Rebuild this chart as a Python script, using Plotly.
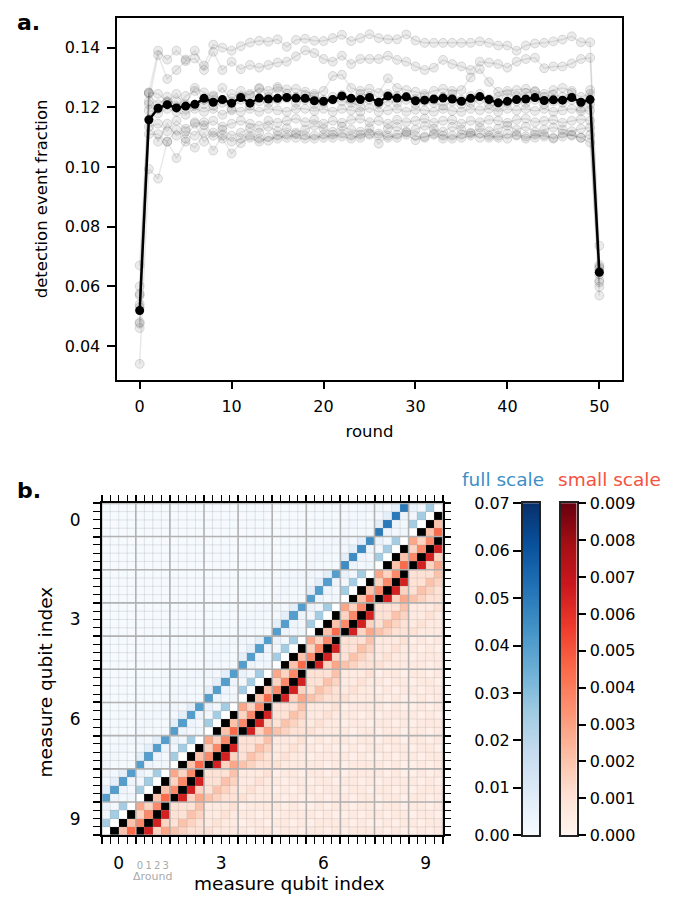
import numpy as np
import plotly.graph_objects as go

# ---------------- panel a data ----------------
ROUNDS = list(range(51))
MEAN_FRACTION = [0.0519, 0.1158, 0.1197, 0.1209, 0.1198, 0.1204, 0.1210, 0.1230, 0.1217, 0.1226,
                 0.1214, 0.1233, 0.1214, 0.1231, 0.1228, 0.1230, 0.1233, 0.1231, 0.1230, 0.1222,
                 0.1220, 0.1226, 0.1238, 0.1230, 0.1226, 0.1233, 0.1217, 0.1238, 0.1231, 0.1235,
                 0.1222, 0.1224, 0.1228, 0.1231, 0.1228, 0.1220, 0.1230, 0.1236, 0.1226, 0.1215,
                 0.1220, 0.1226, 0.1228, 0.1233, 0.1223, 0.1225, 0.1224, 0.1233, 0.1217, 0.1226,
                 0.0647]
QUBIT_A = [0.060, 0.125, 0.139, 0.136, 0.139, 0.136, 0.139, 0.134, 0.141, 0.140,
           0.139, 0.1405, 0.1417, 0.1423, 0.1420, 0.1428, 0.1403, 0.1426, 0.1430, 0.1423,
           0.1422, 0.1432, 0.1443, 0.1422, 0.1432, 0.1445, 0.1432, 0.1428, 0.1428, 0.1444,
           0.1424, 0.1416, 0.1416, 0.1416, 0.1416, 0.1416, 0.1416, 0.1421, 0.1416, 0.1407,
           0.1407, 0.1390, 0.1407, 0.1414, 0.1416, 0.1421, 0.1427, 0.1438, 0.1418, 0.1418,
           0.0665]
QUBIT_B = [0.057, 0.122, 0.1375, 0.1295, 0.1325, 0.1355, 0.1364, 0.1325, 0.1386, 0.1325,
           0.1353, 0.1328, 0.1342, 0.1333, 0.1342, 0.1350, 0.1353, 0.1371, 0.1391, 0.1382,
           0.1362, 0.1353, 0.1373, 0.1345, 0.1362, 0.1362, 0.1362, 0.1373, 0.1359, 0.1353,
           0.1337, 0.1325, 0.1333, 0.1359, 0.1345, 0.1337, 0.1325, 0.1353, 0.1350, 0.1345,
           0.1333, 0.1353, 0.1362, 0.1366, 0.1331, 0.1337, 0.1337, 0.1347, 0.1362, 0.1366,
           0.0736]
QUBIT_C = [0.067, 0.1249, 0.1245, 0.1220, 0.1245, 0.1210, 0.1265, 0.1250, 0.1235, 0.1265,
           0.1220, 0.1255, 0.1240, 0.1265, 0.1255, 0.1268, 0.1260, 0.1262, 0.1252, 0.1245,
           0.1255, 0.1305, 0.1309, 0.1265, 0.1255, 0.1262, 0.1248, 0.1297, 0.1265, 0.1258,
           0.1252, 0.1245, 0.1255, 0.1262, 0.1255, 0.1258, 0.1300, 0.1328, 0.1285, 0.1252,
           0.1255, 0.1258, 0.1262, 0.1255, 0.1245, 0.1258, 0.1265, 0.1255, 0.1195, 0.1258,
           0.0672]
QUBIT_D = [0.0575, 0.1245, 0.1210, 0.1235, 0.1200, 0.1238, 0.1255, 0.1210, 0.1240, 0.1225,
           0.1245, 0.1235, 0.1245, 0.1262, 0.1235, 0.1262, 0.1245, 0.1235, 0.1242, 0.1238,
           0.1225, 0.1235, 0.1242, 0.1225, 0.1245, 0.1238, 0.1215, 0.1245, 0.1238, 0.1235,
           0.1228, 0.1238, 0.1225, 0.1235, 0.1245, 0.1225, 0.1238, 0.1245, 0.1228, 0.1235,
           0.1245, 0.1238, 0.1248, 0.1252, 0.1235, 0.1242, 0.1235, 0.1248, 0.1235, 0.1245,
           0.0660]
QUBIT_E = [0.054, 0.1210, 0.1195, 0.1215, 0.1220, 0.1195, 0.1205, 0.1225, 0.1205, 0.1215,
           0.1195, 0.1225, 0.1205, 0.1220, 0.1215, 0.1225, 0.1230, 0.1215, 0.1225, 0.1210,
           0.1215, 0.1225, 0.1220, 0.1215, 0.1205, 0.1225, 0.1210, 0.1220, 0.1215, 0.1225,
           0.1210, 0.1220, 0.1215, 0.1205, 0.1220, 0.1210, 0.1215, 0.1225, 0.1210, 0.1205,
           0.1215, 0.1220, 0.1215, 0.1225, 0.1210, 0.1220, 0.1215, 0.1225, 0.1215, 0.1210,
           0.0650]
QUBIT_F = [0.053, 0.1190, 0.1180, 0.1195, 0.1185, 0.1175, 0.1195, 0.1185, 0.1195, 0.1175,
           0.1190, 0.1185, 0.1195, 0.1185, 0.1195, 0.1190, 0.1185, 0.1195, 0.1195, 0.1188,
           0.1195, 0.1185, 0.1195, 0.1190, 0.1185, 0.1198, 0.1185, 0.1190, 0.1195, 0.1185,
           0.1192, 0.1190, 0.1185, 0.1195, 0.1188, 0.1185, 0.1195, 0.1190, 0.1195, 0.1185,
           0.1195, 0.1190, 0.1195, 0.1188, 0.1195, 0.1185, 0.1190, 0.1195, 0.1188, 0.1190,
           0.0640]
QUBIT_G = [0.048, 0.1135, 0.1145, 0.1120, 0.1155, 0.1128, 0.1150, 0.1140, 0.1155, 0.1135,
           0.1145, 0.1155, 0.1145, 0.1138, 0.1155, 0.1148, 0.1155, 0.1162, 0.1150, 0.1158,
           0.1145, 0.1155, 0.1148, 0.1158, 0.1162, 0.1150, 0.1155, 0.1145, 0.1158, 0.1150,
           0.1155, 0.1162, 0.1148, 0.1155, 0.1158, 0.1145, 0.1155, 0.1150, 0.1158, 0.1155,
           0.1148, 0.1158, 0.1162, 0.1150, 0.1155, 0.1158, 0.1148, 0.1155, 0.1160, 0.1155,
           0.0620]
QUBIT_H = [0.0475, 0.1160, 0.1085, 0.1145, 0.1105, 0.1120, 0.1105, 0.1150, 0.1105, 0.1125,
           0.1105, 0.1115, 0.1130, 0.1115, 0.1135, 0.1120, 0.1130, 0.1115, 0.1125, 0.1138,
           0.1128, 0.1118, 0.1135, 0.1125, 0.1118, 0.1130, 0.1105, 0.1128, 0.1135, 0.1118,
           0.1125, 0.1138, 0.1128, 0.1118, 0.1135, 0.1125, 0.1115, 0.1132, 0.1120, 0.1128,
           0.1138, 0.1125, 0.1135, 0.1118, 0.1125, 0.1132, 0.1125, 0.1120, 0.1128, 0.1132,
           0.0613]
QUBIT_I = [0.046, 0.1110, 0.1110, 0.1085, 0.1125, 0.1095, 0.1145, 0.1085, 0.1115, 0.1095,
           0.1045, 0.1080, 0.1098, 0.1085, 0.1100, 0.1095, 0.1108, 0.1098, 0.1095, 0.1105,
           0.1098, 0.1108, 0.1102, 0.1095, 0.1108, 0.1112, 0.1078, 0.1105, 0.1098, 0.1108,
           0.1090, 0.1102, 0.1108, 0.1095, 0.1105, 0.1098, 0.1105, 0.1112, 0.1098, 0.1105,
           0.1095, 0.1108, 0.1102, 0.1098, 0.1108, 0.1095, 0.1102, 0.1108, 0.1098, 0.1082,
           0.0598]
QUBIT_J = [0.034, 0.0993, 0.0961, 0.1085, 0.1030, 0.1085, 0.1065, 0.1115, 0.1055, 0.1105,
           0.1085, 0.1095, 0.1105, 0.1095, 0.1088, 0.1105, 0.1098, 0.1110, 0.1105, 0.1095,
           0.1108, 0.1098, 0.1112, 0.1105, 0.1098, 0.1108, 0.1112, 0.1098, 0.1108, 0.1115,
           0.1105, 0.1098, 0.1112, 0.1105, 0.1095, 0.1108, 0.1112, 0.1098, 0.1105, 0.1098,
           0.1112, 0.1105, 0.1095, 0.1108, 0.1102, 0.1098, 0.1112, 0.1105, 0.1098, 0.1108,
           0.0569]
QUBIT_SERIES = [QUBIT_A, QUBIT_B, QUBIT_C, QUBIT_D, QUBIT_E,
                QUBIT_F, QUBIT_G, QUBIT_H, QUBIT_I, QUBIT_J]

X_TICKS_A = [0, 10, 20, 30, 40, 50]
Y_TICKS_A = [0.04, 0.06, 0.08, 0.10, 0.12, 0.14]

# ---------------- panel b data ----------------
# symmetric p_ij matrix; detector index = 4*qubit_block + round; row i lists j = i+1 .. 39
CODE_VALUES = {'0': 0.0003, '1': 0.0006, '2': 0.0010, '3': 0.0015, '4': 0.0020,
               '5': 0.0028, '6': 0.0036, '7': 0.0045, '8': 0.0055, '9': 0.0065,
               'A': 0.0075, 'B': 0.0085,
               'a': 0.015, 'b': 0.0175, 'c': 0.020, 'd': 0.025, 'e': 0.030,
               'f': 0.035, 'g': 0.040, 'h': 0.045, 'i': 0.050, 'j': 0.055}
PIJ_ROWS = [
    "d47" "g935" "4322" "2111" "1011" "0110" "1101" "0111" "1010" "0101",
    "d4" "6g93" "2432" "1211" "0110" "1101" "0111" "1010" "0101" "1011",
    "d" "36g9" "2243" "1121" "1101" "0111" "1010" "0101" "1011" "0110",
    "536g" "2224" "1112" "0111" "1010" "0101" "1011" "0110" "1101",
    "d47" "g935" "4322" "2111" "1010" "0101" "1011" "0110" "1101",
    "d4" "6g93" "2432" "1211" "0101" "1011" "0110" "1101" "0111",
    "d" "36g9" "2243" "1121" "1011" "0110" "1101" "0111" "1010",
    "536g" "2224" "1112" "0110" "1101" "0111" "1010" "0101",
    "d47" "g935" "4322" "2111" "1101" "0111" "1010" "0101",
    "d4" "6g93" "2432" "1211" "0111" "1010" "0101" "1011",
    "d" "36g9" "2243" "1121" "1010" "0101" "1011" "0110",
    "536g" "2224" "1112" "0101" "1011" "0110" "1101",
    "d47" "g935" "4322" "2111" "1011" "0110" "1101",
    "d4" "6g93" "2432" "1211" "0110" "1101" "0111",
    "d" "36g9" "2243" "1121" "1101" "0111" "1010",
    "536g" "2224" "1112" "0111" "1010" "0101",
    "d47" "g935" "4322" "2111" "1010" "0101",
    "d4" "6g93" "2432" "1211" "0101" "1011",
    "d" "36g9" "2243" "1121" "1011" "0110",
    "536g" "2224" "1112" "0110" "1101",
    "d47" "g935" "4322" "2111" "1101",
    "d4" "6g93" "2432" "1211" "0111",
    "d" "36g9" "2243" "1121" "1010",
    "536g" "2224" "1112" "0101",
    "d47" "g935" "4322" "2111",
    "d4" "6g93" "2432" "1211",
    "d" "36g9" "2243" "1121",
    "536g" "2224" "1112",
    "d47" "h935" "4322",
    "d4" "6h93" "2432",
    "d" "36h9" "2243",
    "536h" "2224",
    "d47" "i935",
    "d4" "6i93",
    "d" "36i9",
    "536i",
    "d47",
    "d4",
    "d",
    "",
]
N_DET = 40
QUBIT_TICK_TEXT = ['0', '3', '6', '9']
DROUND_TEXT = ['0', '1', '2', '3']
FULL_SCALE_MAX = 0.07
SMALL_SCALE_MAX = 0.009
FULL_TICKS = [0.00, 0.01, 0.02, 0.03, 0.04, 0.05, 0.06, 0.07]
SMALL_TICKS = [0.000, 0.001, 0.002, 0.003, 0.004, 0.005, 0.006, 0.007, 0.008, 0.009]

BLUES = [[0.0, '#f7fbff'], [0.125, '#deebf7'], [0.25, '#c6dbef'], [0.375, '#9ecae1'],
         [0.5, '#6baed6'], [0.625, '#4292c6'], [0.75, '#2171b5'], [0.875, '#08519c'], [1.0, '#08306b']]
REDS = [[0.0, '#fff5f0'], [0.125, '#fee0d2'], [0.25, '#fcbba1'], [0.375, '#fc9272'],
        [0.5, '#fb6a4a'], [0.625, '#ef3b2c'], [0.75, '#cb181d'], [0.875, '#a50f15'], [1.0, '#67000d']]

# ---------------- build matrix ----------------
M = np.full((N_DET, N_DET), np.nan)
for i, row in enumerate(PIJ_ROWS):
    for k, ch in enumerate(row):
        j = i + 1 + k
        M[i, j] = CODE_VALUES[ch]
        M[j, i] = CODE_VALUES[ch]

centers = [k + 0.5 for k in range(N_DET)]
blue_z, red_z, black_z = [], [], []
for i in range(N_DET):
    br, rr, kr = [], [], []
    for j in range(N_DET):
        v = M[i, j]
        if j < i:
            br.append(v); rr.append(None); kr.append(None)
        elif j > i:
            br.append(None)
            if v >= 0.01:
                rr.append(None); kr.append(1)
            else:
                rr.append(v); kr.append(None)
        else:
            br.append(None); rr.append(None); kr.append(None)
    blue_z.append(br); red_z.append(rr); black_z.append(kr)

W, H = 685, 901
def px(x): return x / W
def py(y): return 1 - y / H

FONT = "DejaVu Sans"
fig = go.Figure()

# ---- panel a traces ----
for vals in QUBIT_SERIES:
    fig.add_trace(go.Scatter(
        x=ROUNDS, y=vals, mode='lines+markers', xaxis='x', yaxis='y',
        line=dict(color='rgba(0,0,0,0.09)', width=1.5),
        marker=dict(size=9, color='rgba(0,0,0,0.08)', line=dict(color='rgba(0,0,0,0.12)', width=1)),
        showlegend=False, hoverinfo='skip'))
fig.add_trace(go.Scatter(
    x=ROUNDS, y=MEAN_FRACTION, mode='lines+markers', xaxis='x', yaxis='y',
    line=dict(color='black', width=2.5), marker=dict(size=9, color='black'),
    showlegend=False))

# ---- panel b heatmaps ----
fig.add_trace(go.Heatmap(x=centers, y=centers, z=blue_z, xaxis='x2', yaxis='y2',
                         colorscale=BLUES, zmin=0, zmax=FULL_SCALE_MAX, showscale=False,
                         hoverongaps=False))
fig.add_trace(go.Heatmap(x=centers, y=centers, z=red_z, xaxis='x2', yaxis='y2',
                         colorscale=REDS, zmin=0, zmax=SMALL_SCALE_MAX, showscale=False,
                         hoverongaps=False))
fig.add_trace(go.Heatmap(x=centers, y=centers, z=black_z, xaxis='x2', yaxis='y2',
                         colorscale=[[0, 'black'], [1, 'black']], showscale=False,
                         hoverongaps=False))

# grid lines over the heatmap
minor_x, minor_y, major_x, major_y = [], [], [], []
for k in range(N_DET + 1):
    minor_x += [k, k, None, 0, N_DET, None]
    minor_y += [0, N_DET, None, k, k, None]
    if k % 4 == 0:
        major_x += [k, k, None, 0, N_DET, None]
        major_y += [0, N_DET, None, k, k, None]
fig.add_trace(go.Scatter(x=minor_x, y=minor_y, mode='lines', xaxis='x2', yaxis='y2',
                         line=dict(color='rgba(150,150,150,0.30)', width=0.8),
                         showlegend=False, hoverinfo='skip'))
fig.add_trace(go.Scatter(x=major_x, y=major_y, mode='lines', xaxis='x2', yaxis='y2',
                         line=dict(color='rgba(175,175,175,0.95)', width=1.6),
                         showlegend=False, hoverinfo='skip'))
# label-only overlay axes
fig.add_trace(go.Scatter(x=[None], y=[None], xaxis='x5', yaxis='y2', showlegend=False, hoverinfo='skip'))
fig.add_trace(go.Scatter(x=[None], y=[None], xaxis='x2', yaxis='y5', showlegend=False, hoverinfo='skip'))
fig.add_trace(go.Scatter(x=[None], y=[None], xaxis='x6', yaxis='y2', showlegend=False, hoverinfo='skip'))

# ---- colour bars as small heatmaps ----
blue_levels = np.linspace(0, FULL_SCALE_MAX, 300)
red_levels = np.linspace(0, SMALL_SCALE_MAX, 300)
fig.add_trace(go.Heatmap(x=[0], y=blue_levels, z=[[v] for v in blue_levels], xaxis='x3', yaxis='y3',
                         colorscale=BLUES, zmin=0, zmax=FULL_SCALE_MAX, showscale=False, hoverinfo='skip'))
fig.add_trace(go.Heatmap(x=[0], y=red_levels, z=[[v] for v in red_levels], xaxis='x4', yaxis='y4',
                         colorscale=REDS, zmin=0, zmax=SMALL_SCALE_MAX, showscale=False, hoverinfo='skip'))

axis_common = dict(showgrid=False, zeroline=False, showline=True, linecolor='black',
                   linewidth=1.5, ticks='outside', tickcolor='black', tickwidth=1.5,
                   tickfont=dict(family=FONT, size=16, color='black'))

hb_top, hb_bot = 505, 844
hb_left, hb_right = 101.7, 442.7

layout = dict(
    width=W, height=H, margin=dict(l=0, r=0, t=0, b=0),
    paper_bgcolor='white', plot_bgcolor='white', showlegend=False,
    font=dict(family=FONT, color='black'),
    xaxis=dict(domain=[px(116.7), px(622.3)], anchor='y', range=[-2.5, 52.5],
               tickvals=X_TICKS_A, ticklen=7.5, mirror=True, ticklabelstandoff=4, **axis_common,
               title=dict(text='round', font=dict(family=FONT, size=16.5), standoff=10)),
    yaxis=dict(domain=[py(379), py(9)], anchor='x', range=[0.0286, 0.150],
               tickvals=Y_TICKS_A, tickformat='.2f', ticklen=7.5, mirror=True, ticklabelstandoff=4,
               **axis_common,
               title=dict(text='detection event fraction', font=dict(family=FONT, size=16.5), standoff=13)),
    xaxis2=dict(domain=[px(hb_left), px(hb_right)], anchor='y2', range=[0, N_DET],
                tickvals=list(range(0, N_DET + 1, 4)), showticklabels=False, ticklen=7,
                mirror='allticks', layer='above traces',
                minor=dict(ticks='outside', ticklen=3.5, tickwidth=1, tickcolor='black',
                           dtick=1, tick0=0, showgrid=False),
                **axis_common),
    yaxis2=dict(domain=[py(hb_bot), py(hb_top)], anchor='x2', range=[0, N_DET],
                tickvals=list(range(0, N_DET + 1, 4)), showticklabels=False, ticklen=7,
                mirror='allticks', layer='above traces',
                minor=dict(ticks='outside', ticklen=3.5, tickwidth=1, tickcolor='black',
                           dtick=1, tick0=0, showgrid=False),
                **axis_common),
    xaxis5=dict(overlaying='x2', anchor='y2', side='bottom', range=[0, N_DET],
                tickvals=[2, 14, 26, 38], ticktext=QUBIT_TICK_TEXT, ticks='', tickangle=0,
                showline=False, showgrid=False, zeroline=False, ticklabelstandoff=16,
                tickfont=dict(family=FONT, size=17, color='black')),
    yaxis5=dict(overlaying='y2', anchor='x2', side='left', range=[0, N_DET],
                tickvals=[38, 26, 14, 2], ticktext=QUBIT_TICK_TEXT, ticks='', tickangle=0,
                showline=False, showgrid=False, zeroline=False, ticklabelstandoff=20,
                tickfont=dict(family=FONT, size=17, color='black')),
    xaxis6=dict(overlaying='x2', anchor='y2', side='bottom', range=[0, N_DET],
                tickvals=[4.5, 5.5, 6.5, 7.5], ticktext=DROUND_TEXT, ticks='', tickangle=0,
                showline=False, showgrid=False, zeroline=False, ticklabelstandoff=23,
                tickfont=dict(family=FONT, size=10, color='#aaaaaa')),
    xaxis3=dict(domain=[px(522.7), px(539.3)], anchor='y3', range=[-0.5, 0.5],
                showticklabels=False, ticks='', showgrid=False, zeroline=False,
                showline=True, linecolor='#222', linewidth=1.5, mirror=True),
    yaxis3=dict(domain=[py(hb_bot), py(hb_top)], anchor='x3', range=[0, FULL_SCALE_MAX],
                side='left', tickvals=FULL_TICKS, tickformat='.2f', ticklen=8, mirror=True,
                **{**axis_common, 'linecolor': '#222'}),
    xaxis4=dict(domain=[px(560.7), px(576.7)], anchor='y4', range=[-0.5, 0.5],
                showticklabels=False, ticks='', showgrid=False, zeroline=False,
                showline=True, linecolor='#222', linewidth=1.5, mirror=True),
    yaxis4=dict(domain=[py(hb_bot), py(hb_top)], anchor='x4', range=[0, SMALL_SCALE_MAX],
                side='right', tickvals=SMALL_TICKS, tickformat='.3f', ticklen=8, mirror=True,
                **{**axis_common, 'linecolor': '#222'}),
)
fig.update_layout(**layout)

annotations = [
    dict(text='<b>a.</b>', x=px(15), y=py(14), xref='paper', yref='paper', xanchor='left',
         yanchor='middle', showarrow=False, font=dict(family=FONT, size=22, color='black')),
    dict(text='<b>b.</b>', x=px(15), y=py(492), xref='paper', yref='paper', xanchor='left',
         yanchor='middle', showarrow=False, font=dict(family=FONT, size=22, color='black')),
    dict(text='measure qubit index', x=px(289), y=py(893), xref='paper', yref='paper',
         xanchor='center', yanchor='middle', showarrow=False, borderpad=0,
         font=dict(family=FONT, size=18.5)),
    dict(text='measure qubit index', x=px(45), y=py(688), xref='paper', yref='paper',
         xanchor='center', yanchor='middle', textangle=-90, showarrow=False,
         font=dict(family=FONT, size=18.5)),
    dict(text='Δround', x=6, y=py(886), xref='x2', yref='paper', xanchor='center',
         yanchor='middle', showarrow=False, borderpad=0,
         font=dict(family=FONT, size=11, color='#aaaaaa')),
    dict(text='full scale', x=px(503), y=py(481), xref='paper', yref='paper', xanchor='center',
         yanchor='middle', showarrow=False, font=dict(family=FONT, size=18.5, color='#3d8fc6')),
    dict(text='small scale', x=px(609), y=py(481), xref='paper', yref='paper', xanchor='center',
         yanchor='middle', showarrow=False, font=dict(family=FONT, size=18.5, color='#f5523f')),
]
fig.update_layout(annotations=annotations)

fig.write_html("out.html")
